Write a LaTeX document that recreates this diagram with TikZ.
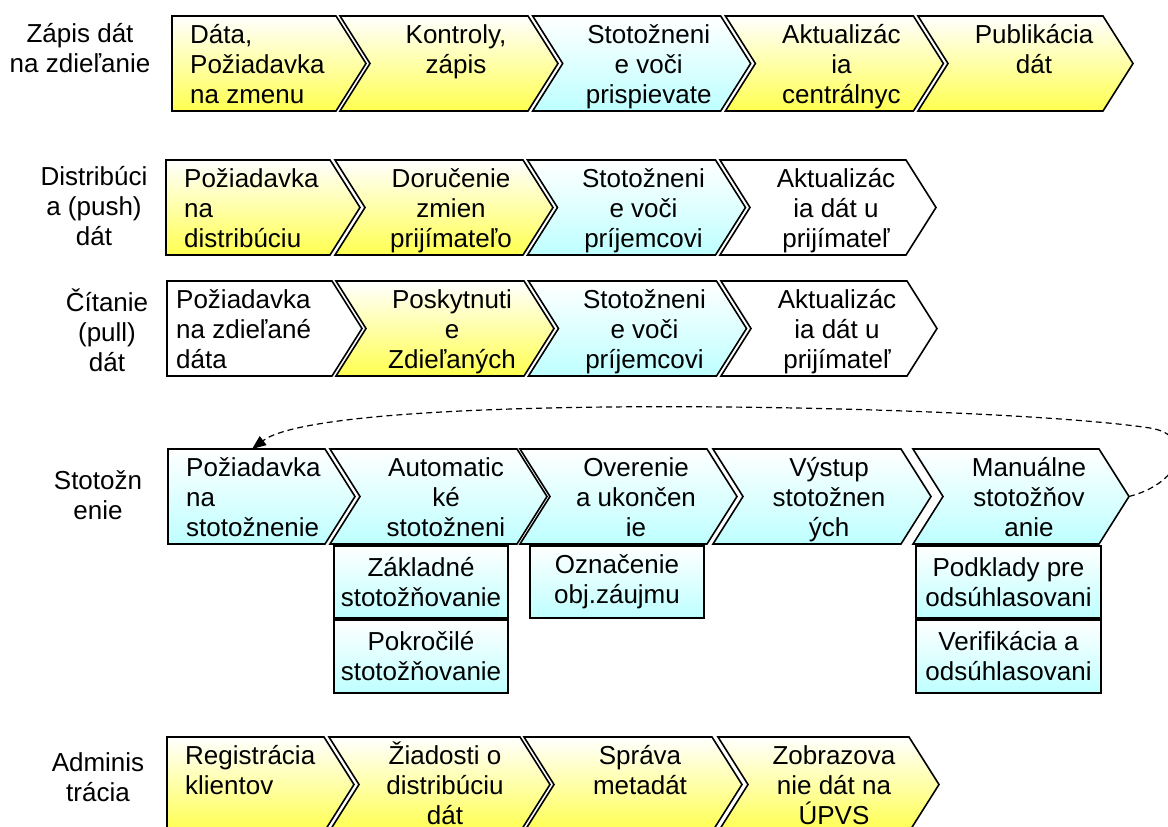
\documentclass[tikz,border=0pt]{standalone}
\usepackage{fontspec}
\setmainfont{Liberation Sans}
\usetikzlibrary{arrows.meta}
\definecolor{yelB}{RGB}{255,255,80}
\definecolor{cyaB}{RGB}{190,255,255}
\newcommand{\mystrut}{\rule{0pt}{25pt}}
\tikzset{
  boxline/.style={draw=black, line width=1.6pt, line join=miter},
  ybox/.style={boxline, top color=white, bottom color=yelB},
  cbox/.style={boxline, top color=white, bottom color=cyaB},
  wbox/.style={boxline, fill=white},
  txt/.style={inner sep=0pt, font=\fontsize{26}{30}\selectfont, align=center, anchor=north},
  ltxt/.style={txt, align=left, anchor=north west},
  lab/.style={txt},
  subbox/.style={boxline, top color=white, bottom color=cyaB, inner sep=0pt,
    font=\fontsize{26}{30}\selectfont, align=center, minimum height=72pt},
  loopconn/.style={draw=black, line width=1.2pt, dash pattern=on 6pt off 4pt,
    -{Triangle[length=14pt,width=11pt]}},
}
% chevron: style, left x, top y, body width, name, text
\newcommand{\chevr}[6]{%
  \path[#1] (#2,#3) -- ++(#4,0) -- ++(30,47.5) -- ++(-30,47.5) -- ++(-#4,0) -- ++(30,-47.5) -- cycle;
  \node[txt] (#5) at ({#2+116},{#3+2}) {\mystrut #6};
}
% first box: style, left x, top y, body width, name, text, text offset
\newcommand{\homeb}[7]{%
  \path[#1] (#2,#3) -- ++(#4,0) -- ++(30,47.5) -- ++(-30,47.5) -- ++(-#4,0) -- cycle;
  \node[ltxt] (#5) at ({#2+#7},{#3+2}) {\mystrut #6};
}
\begin{document}
\begin{tikzpicture}[x=1pt,y=-1pt]
\useasboundingbox (0,0) rectangle (1168,827);
\clip (0,0) rectangle (1168,827);
% labels
\node[lab] (L1) at (80,17) {\mystrut Zápis dát\\na zdieľanie};
\node[lab] (L2) at (94,160) {\mystrut Distribúci\\a (push)\\dát};
\node[lab] (L3) at (107,286) {\mystrut Čítanie\\(pull)\\dát};
\node[lab] (L4) at (98,464) {\mystrut Stotožn\\enie};
\node[lab] (L5) at (98,746) {\mystrut Adminis\\trácia};
% row 1
\homeb{ybox}{172}{16}{164}{a1}{Dáta,\\Požiadavka\\na zmenu}{18}
\chevr{ybox}{340}{16}{188}{a2}{Kontroly,\\zápis}
\chevr{cbox}{532.7}{16}{188}{a3}{Stotožneni\\e voči\\prispievate}
\chevr{ybox}{725.4}{16}{188}{a4}{Aktualizác\\ia\\centrálnyc}
\chevr{ybox}{918}{16}{185}{a5}{Publikácia\\dát}
% row 2
\homeb{ybox}{166}{160}{164}{b1}{Požiadavka\\na\\distribúciu}{18}
\chevr{ybox}{335}{160}{188}{b2}{Doručenie\\zmien\\prijímateľo}
\chevr{cbox}{527.5}{160}{188}{b3}{Stotožneni\\e voči\\príjemcovi}
\chevr{wbox}{720}{160}{186}{b4}{Aktualizác\\ia dát u\\prijímateľ}
% row 3
\homeb{wbox}{167}{281}{165}{c1}{Požiadavka\\na zdieľané\\dáta}{9}
\chevr{ybox}{336}{281}{188}{c2}{Poskytnuti\\e\\Zdieľaných}
\chevr{cbox}{528.5}{281}{188}{c3}{Stotožneni\\e voči\\príjemcovi}
\chevr{wbox}{721}{281}{186}{c4}{Aktualizác\\ia dát u\\prijímateľ}
% row 4
\homeb{cbox}{168}{449}{157}{d1}{Požiadavka\\na\\stotožnenie}{18}
\chevr{cbox}{330}{449}{187}{d2}{Automatic\\ké\\stotožneni}
\chevr{cbox}{520}{449}{187}{d3}{Overenie\\a ukončen\\ie}
\chevr{cbox}{713}{449}{188}{d4}{Výstup\\stotožnen\\ých}
\chevr{cbox}{913}{449}{186}{d5}{Manuálne\\stotožňov\\anie}
\node[subbox, minimum width=174pt] (s1) at (421,582) {Základné\\stotožňovanie};
\node[subbox, minimum width=174pt, minimum height=73pt] (s2) at (421,656.5) {Pokročilé\\stotožňovanie};
\node[subbox, minimum width=174pt] (s3) at (617,582) {Označenie\\obj.záujmu};
\node[subbox, minimum width=185pt] (s4) at (1008.5,582) {Podklady pre\\odsúhlasovani};
\node[subbox, minimum width=185pt, minimum height=73pt] (s5) at (1008.5,656.5) {Verifikácia a\\odsúhlasovani};
% row 5
\homeb{ybox}{167}{737}{157}{e1}{Registrácia\\klientov}{18}
\chevr{ybox}{329}{737}{191}{e2}{Žiadosti o\\distribúciu\\dát}
\chevr{ybox}{524}{737}{188}{e3}{Správa\\metadát}
\chevr{ybox}{718}{737}{191}{e4}{Zobrazova\\nie dát na\\ÚPVS}
% loop connector
\coordinate (mtip) at (1129,496.5);
\coordinate (mtop) at (252,449);
\draw[loopconn] (mtip) .. controls (1185,482) and (1195,435) .. (1150,428)
  .. controls (1000,405) and (330,390) .. (mtop);
\end{tikzpicture}
\end{document}
